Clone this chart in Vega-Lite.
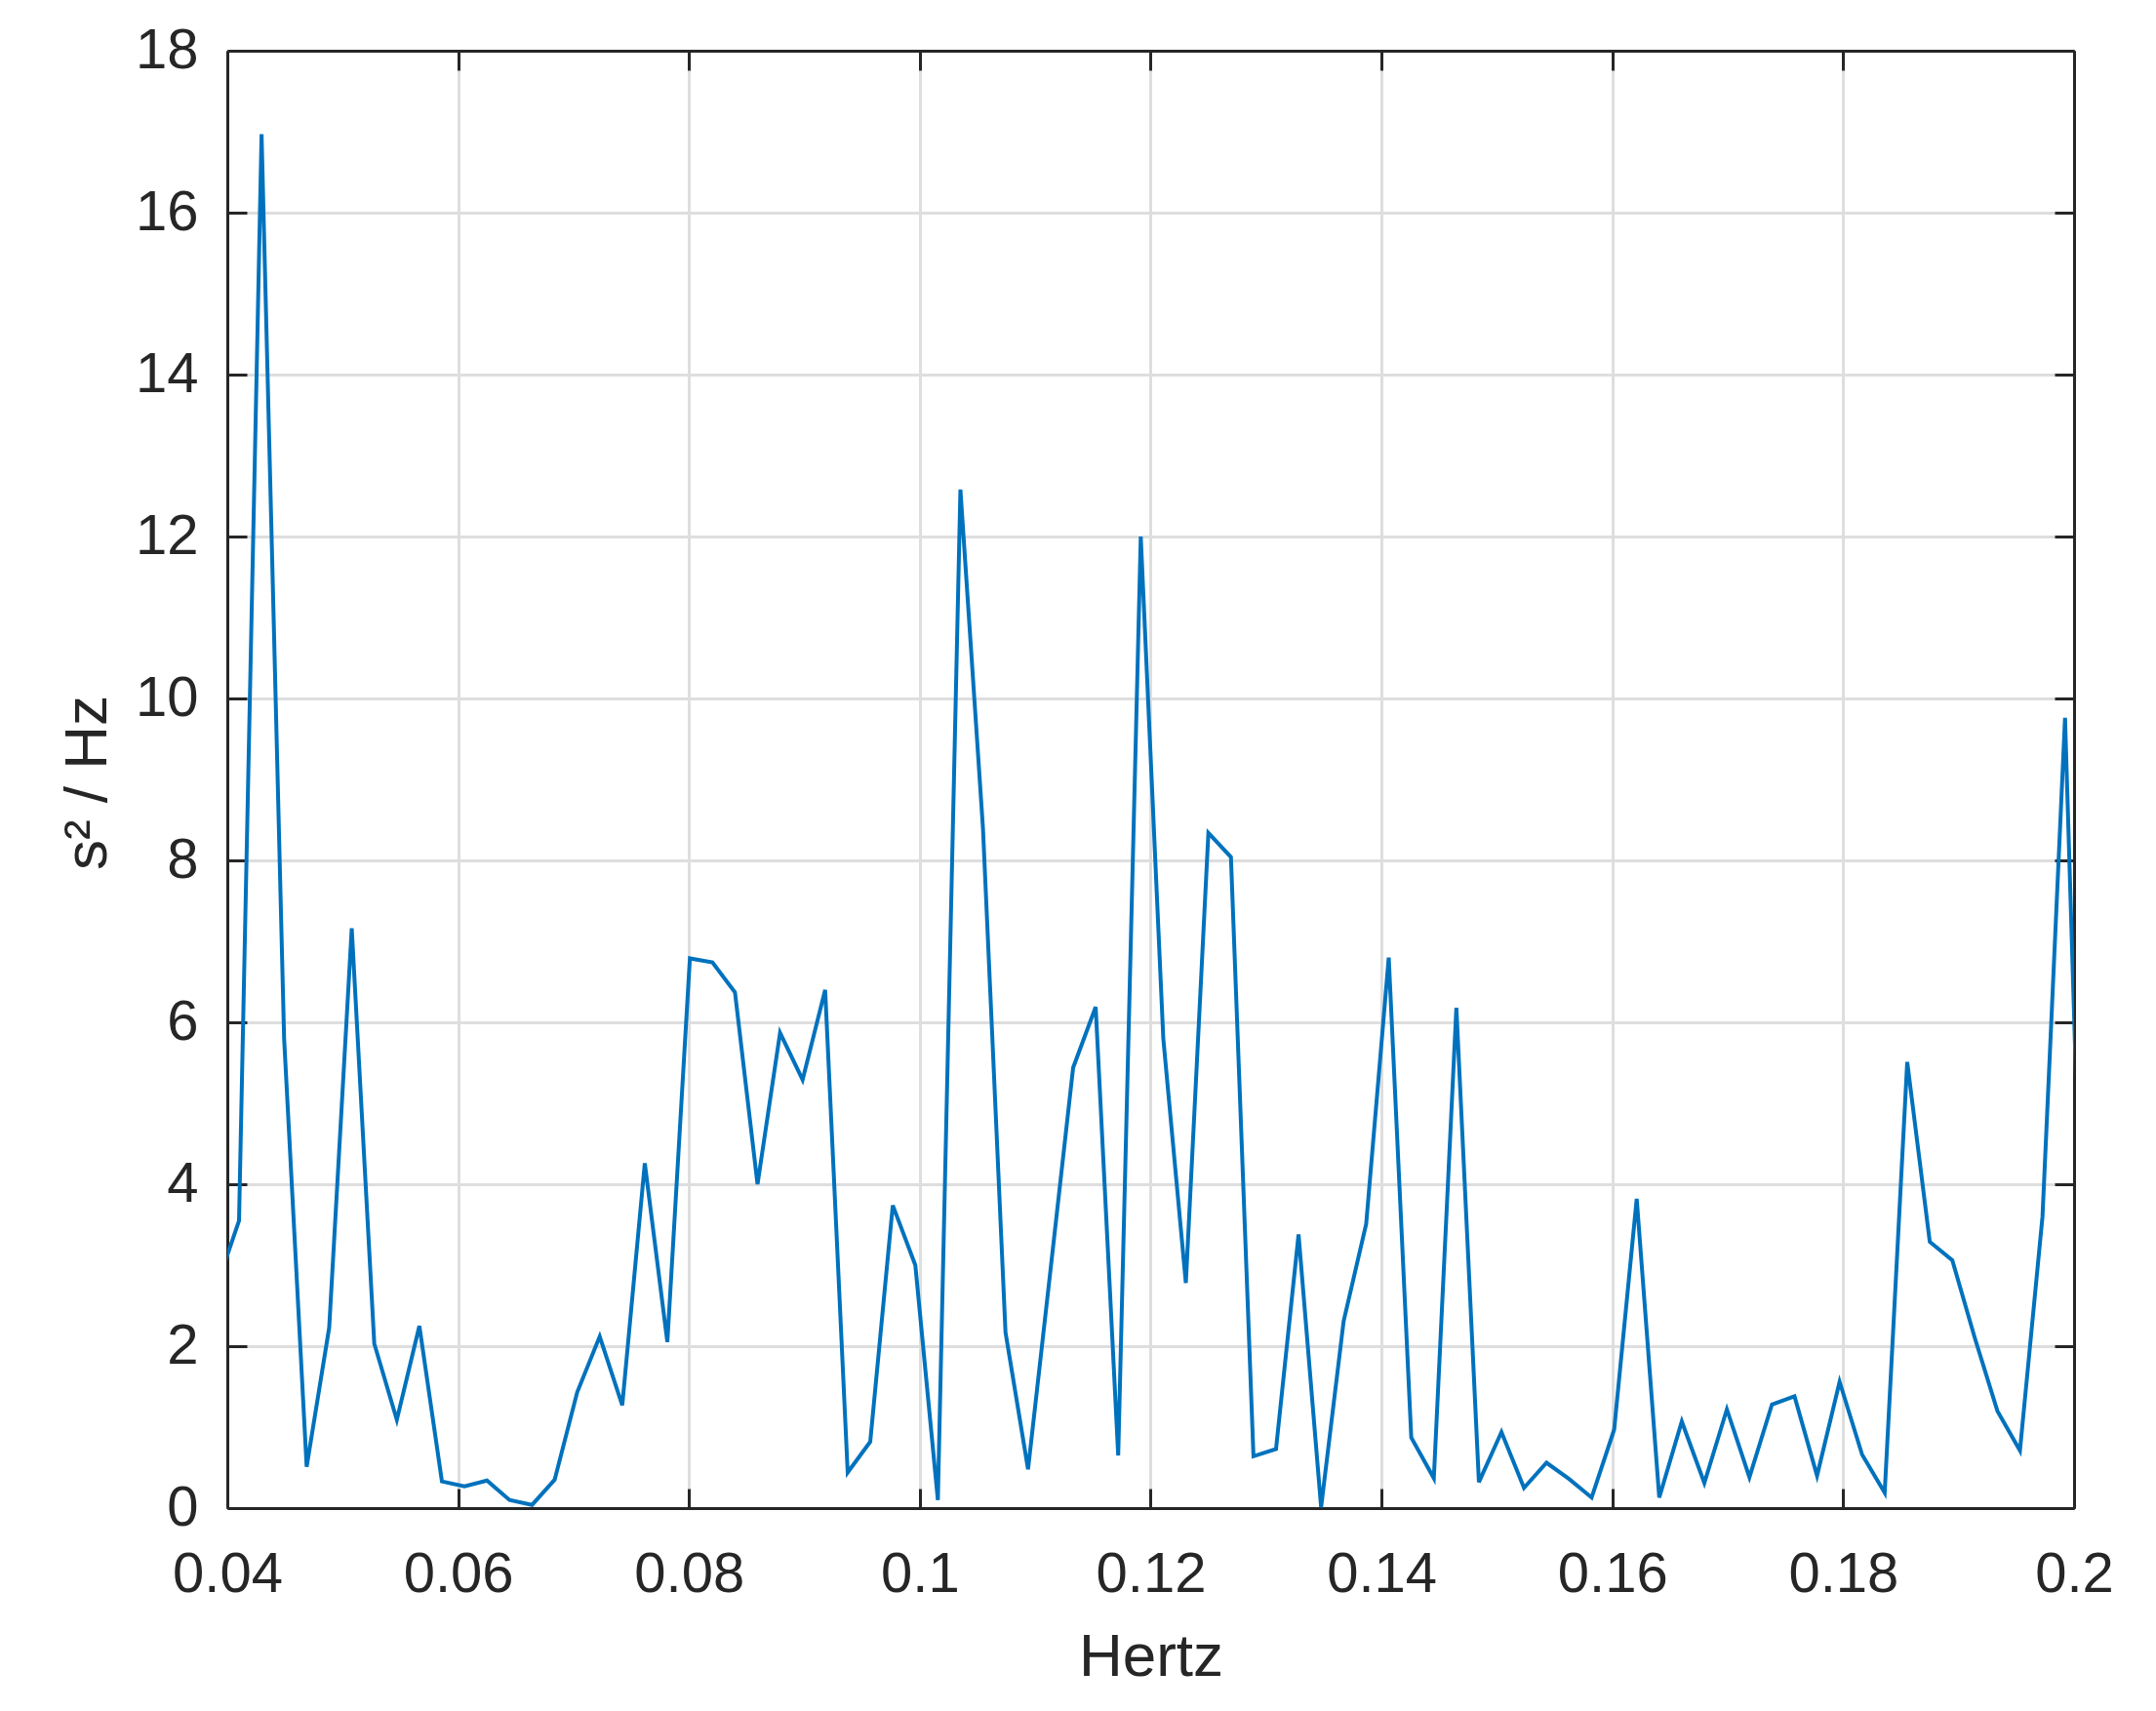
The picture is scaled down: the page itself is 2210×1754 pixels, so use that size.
{
  "$schema": "https://vega.github.io/schema/vega-lite/v6.json",
  "width": 1893,
  "height": 1494,
  "autosize": "none",
  "padding": {"left": 233, "top": 52, "right": 84, "bottom": 208},
  "background": "white",
  "config": {
    "view": {"stroke": null},
    "font": "Liberation Sans"
  },
  "data": {
    "values": [
      {"f": 0.0390625, "p": 2.73},
      {"f": 0.041015625, "p": 3.55},
      {"f": 0.04296875, "p": 16.97},
      {"f": 0.044921875, "p": 5.8},
      {"f": 0.046875, "p": 0.51},
      {"f": 0.048828125, "p": 2.23},
      {"f": 0.05078125, "p": 7.16},
      {"f": 0.052734375, "p": 2.03},
      {"f": 0.0546875, "p": 1.09},
      {"f": 0.056640625, "p": 2.25},
      {"f": 0.05859375, "p": 0.33},
      {"f": 0.060546875, "p": 0.27},
      {"f": 0.0625, "p": 0.34},
      {"f": 0.064453125, "p": 0.1},
      {"f": 0.06640625, "p": 0.04},
      {"f": 0.068359375, "p": 0.35},
      {"f": 0.0703125, "p": 1.43},
      {"f": 0.072265625, "p": 2.12},
      {"f": 0.07421875, "p": 1.27},
      {"f": 0.076171875, "p": 4.26},
      {"f": 0.078125, "p": 2.05},
      {"f": 0.080078125, "p": 6.79},
      {"f": 0.08203125, "p": 6.74},
      {"f": 0.083984375, "p": 6.37},
      {"f": 0.0859375, "p": 4.0},
      {"f": 0.087890625, "p": 5.87},
      {"f": 0.08984375, "p": 5.29},
      {"f": 0.091796875, "p": 6.4},
      {"f": 0.09375, "p": 0.44},
      {"f": 0.095703125, "p": 0.82},
      {"f": 0.09765625, "p": 3.74},
      {"f": 0.099609375, "p": 3.0},
      {"f": 0.1015625, "p": 0.1},
      {"f": 0.103515625, "p": 12.58},
      {"f": 0.10546875, "p": 8.4},
      {"f": 0.107421875, "p": 2.17},
      {"f": 0.109375, "p": 0.48},
      {"f": 0.111328125, "p": 2.95},
      {"f": 0.11328125, "p": 5.44},
      {"f": 0.115234375, "p": 6.19},
      {"f": 0.1171875, "p": 0.65},
      {"f": 0.119140625, "p": 12.0},
      {"f": 0.12109375, "p": 5.8},
      {"f": 0.123046875, "p": 2.78},
      {"f": 0.125, "p": 8.34},
      {"f": 0.126953125, "p": 8.04},
      {"f": 0.12890625, "p": 0.64},
      {"f": 0.130859375, "p": 0.73},
      {"f": 0.1328125, "p": 3.38},
      {"f": 0.134765625, "p": 0.01},
      {"f": 0.13671875, "p": 2.31},
      {"f": 0.138671875, "p": 3.51},
      {"f": 0.140625, "p": 6.8},
      {"f": 0.142578125, "p": 0.87},
      {"f": 0.14453125, "p": 0.37},
      {"f": 0.146484375, "p": 6.18},
      {"f": 0.1484375, "p": 0.32},
      {"f": 0.150390625, "p": 0.94},
      {"f": 0.15234375, "p": 0.25},
      {"f": 0.154296875, "p": 0.56},
      {"f": 0.15625, "p": 0.36},
      {"f": 0.158203125, "p": 0.13},
      {"f": 0.16015625, "p": 0.97},
      {"f": 0.162109375, "p": 3.82},
      {"f": 0.1640625, "p": 0.13},
      {"f": 0.166015625, "p": 1.07},
      {"f": 0.16796875, "p": 0.31},
      {"f": 0.169921875, "p": 1.22},
      {"f": 0.171875, "p": 0.38},
      {"f": 0.173828125, "p": 1.28},
      {"f": 0.17578125, "p": 1.38},
      {"f": 0.177734375, "p": 0.4},
      {"f": 0.1796875, "p": 1.56},
      {"f": 0.181640625, "p": 0.66},
      {"f": 0.18359375, "p": 0.19},
      {"f": 0.185546875, "p": 5.51},
      {"f": 0.1875, "p": 3.29},
      {"f": 0.189453125, "p": 3.06},
      {"f": 0.19140625, "p": 2.1},
      {"f": 0.193359375, "p": 1.2},
      {"f": 0.1953125, "p": 0.71},
      {"f": 0.197265625, "p": 3.6},
      {"f": 0.19921875, "p": 9.76},
      {"f": 0.201171875, "p": 0.6}
    ]
  },
  "layer": [
    {
      "mark": {"type": "line", "color": "#0072BD", "strokeWidth": 4, "clip": true},
      "encoding": {
        "x": {
          "field": "f", "type": "quantitative",
          "scale": {"domain": [0.04, 0.2], "nice": false, "zero": false},
          "axis": {
            "orient": "bottom",
            "values": [0.04, 0.06, 0.08, 0.1, 0.12, 0.14, 0.16, 0.18, 0.2],
            "format": "~g",
            "domain": true, "domainColor": "#262626", "domainWidth": 3,
            "grid": true, "gridColor": "#dedede", "gridWidth": 3, "gridOpacity": 1,
            "ticks": true, "tickSize": -20, "tickColor": "#262626", "tickWidth": 3,
            "labelFont": "Liberation Sans", "labelFontSize": 58, "labelColor": "#262626",
            "labelPadding": 59, "labelFlush": false, "labelOverlap": false,
            "title": "Hertz", "titleFont": "Liberation Sans", "titleFontSize": 62,
            "titleFontWeight": "normal", "titleColor": "#262626",
            "titleBaseline": "alphabetic", "titleAlign": "center",
            "titleX": 946.5, "titleY": 171
          }
        },
        "y": {
          "field": "p", "type": "quantitative",
          "scale": {"domain": [0, 18], "nice": false, "zero": true},
          "axis": {
            "orient": "left",
            "values": [0, 2, 4, 6, 8, 10, 12, 14, 16, 18],
            "domain": true, "domainColor": "#262626", "domainWidth": 3,
            "grid": true, "gridColor": "#dedede", "gridWidth": 3, "gridOpacity": 1,
            "ticks": true, "tickSize": -20, "tickColor": "#262626", "tickWidth": 3,
            "labelFont": "Liberation Sans", "labelFontSize": 58, "labelColor": "#262626",
            "labelPadding": 50, "labelFlush": false, "labelOverlap": false,
            "title": "s² / Hz", "titleFont": "Liberation Sans", "titleFontSize": 62,
            "titleFontWeight": "normal", "titleColor": "#262626",
            "titleBaseline": "alphabetic", "titleAlign": "center", "titleAngle": -90,
            "titleX": -125, "titleY": 750
          }
        }
      }
    },
    {
      "mark": {"type": "line", "opacity": 0, "clip": true},
      "encoding": {
        "x": {
          "field": "f", "type": "quantitative",
          "scale": {"domain": [0.04, 0.2], "nice": false, "zero": false},
          "axis": {
            "orient": "top",
            "values": [0.04, 0.06, 0.08, 0.1, 0.12, 0.14, 0.16, 0.18, 0.2],
            "domain": true, "domainColor": "#262626", "domainWidth": 3,
            "grid": false, "labels": false,
            "ticks": true, "tickSize": -20, "tickColor": "#262626", "tickWidth": 3,
            "title": null
          }
        },
        "y": {
          "field": "p", "type": "quantitative",
          "scale": {"domain": [0, 18], "nice": false, "zero": true},
          "axis": {
            "orient": "right",
            "values": [0, 2, 4, 6, 8, 10, 12, 14, 16, 18],
            "domain": true, "domainColor": "#262626", "domainWidth": 3,
            "grid": false, "labels": false,
            "ticks": true, "tickSize": -20, "tickColor": "#262626", "tickWidth": 3,
            "title": null
          }
        }
      }
    }
  ],
  "resolve": {"axis": {"x": "independent", "y": "independent"}}
}
